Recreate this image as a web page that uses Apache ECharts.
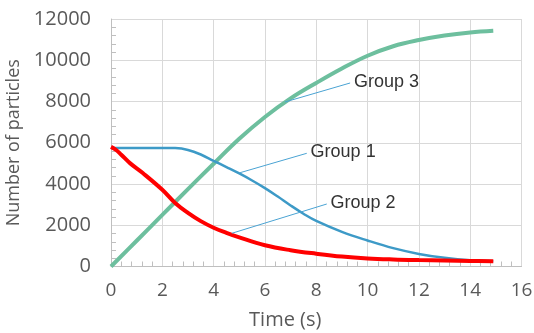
<!DOCTYPE html>
<html>
<head>
<meta charset="utf-8">
<script src="https://cdn.jsdelivr.net/npm/echarts@6/dist/echarts.min.js"></script>
<style>html,body{margin:0;padding:0;background:#fff}#c{width:534px;height:333px}</style>
</head>
<body>
<div id="c"></div>
<script>
var group1 = [[0,5750],[1,5750],[2,5750],[2.5,5740],[3,5650],[3.5,5430],[4,5120],[4.5,4820],[5,4510],[5.5,4170],[6,3800],[6.5,3390],[7,2960],[7.5,2560],[8,2210],[9,1680],[10,1260],[11,890],[12,610],[13,420],[14,300],[14.9,260]];
var group2 = [[0,5800],[0.2,5650],[0.4,5420],[0.75,5000],[1.25,4520],[2,3720],[2.5,3080],[3,2600],[3.5,2200],[4,1880],[4.5,1630],[5,1410],[6,1030],[7,790],[8,620],[9,480],[10,390],[11,340],[12,310],[13,290],[14,270],[14.9,250]];
var group3 = [[0,0],[1,1250],[2,2500],[3,3750],[4,4980],[5,6190],[6,7250],[7,8150],[8,8900],[9,9600],[10,10220],[11,10680],[12,10980],[13,11200],[14,11350],[14.9,11430]];
var seriesNames = ['Group 1','Group 2','Group 3'];
var leader1 = [[5.03,4548],[7.63,5488]];
var leader2 = [[4.71,1610],[8.41,3030]];
var leader3 = [[6.78,7976],[9.32,8897]];
var xTicks = {min:0,max:16,interval:2};
var yTicks = {min:0,max:12000,interval:2000};

function leader(pts,name){
  return {
    symbol:['none','none'], silent:true, animation:false,
    lineStyle:{color:'#4aa3d3',width:1,type:'solid'},
    label:{show:true,position:'end',formatter:name,distance:4,
      fontFamily:'Liberation Sans',fontSize:18,color:'#333'},
    data:[[{coord:pts[0]},{coord:pts[1]}]]
  };
}
var chart = echarts.init(document.getElementById('c'));
chart.setOption({
  animation:false,
  grid:{left:111,right:12.5,top:19,bottom:66.5,containLabel:false,outerBoundsMode:'none'},
  xAxis:{type:'value',min:xTicks.min,max:xTicks.max,interval:xTicks.interval,
    name:'Time (s)',nameLocation:'middle',nameGap:44,
    nameTextStyle:{fontFamily:'Open Sans',fontSize:20,color:'#595959',padding:[0,62,0,0]},
    axisLine:{show:true,lineStyle:{color:'#bfbfbf',width:1}},
    axisTick:{show:false},
    minorTick:{show:true,splitNumber:5,length:-5,lineStyle:{color:'#bfbfbf'}},
    axisLabel:{fontFamily:'Open Sans',fontSize:19,color:'#595959',margin:15},
    splitLine:{show:true,lineStyle:{color:'#d9d9d9',width:1}}},
  yAxis:{type:'value',min:yTicks.min,max:yTicks.max,interval:yTicks.interval,
    name:'Number of particles',nameLocation:'middle',nameGap:82,
    nameTextStyle:{fontFamily:'Open Sans',fontSize:18,color:'#595959'},
    axisLine:{show:true,lineStyle:{color:'#bfbfbf',width:1}},
    axisTick:{show:false},
    minorTick:{show:true,splitNumber:5,length:-5,lineStyle:{color:'#bfbfbf'}},
    axisLabel:{fontFamily:'Open Sans',fontSize:20,color:'#595959',margin:20,
      formatter:function(v){return String(v);}},
    splitLine:{show:true,lineStyle:{color:'#d9d9d9',width:1}}},
  series:[
    {name:seriesNames[0],type:'line',data:group1,smooth:0.4,showSymbol:false,
      lineStyle:{color:'#3d9ac7',width:2.5},z:3,markLine:leader(leader1,seriesNames[0])},
    {name:seriesNames[2],type:'line',data:group3,smooth:0.4,showSymbol:false,
      lineStyle:{color:'#6dbf9e',width:4},z:2,markLine:leader(leader3,seriesNames[2])},
    {name:seriesNames[1],type:'line',data:group2,smooth:0.4,showSymbol:false,
      lineStyle:{color:'#ff0000',width:4},z:4,markLine:leader(leader2,seriesNames[1])}
  ]
});
</script>
</body>
</html>
